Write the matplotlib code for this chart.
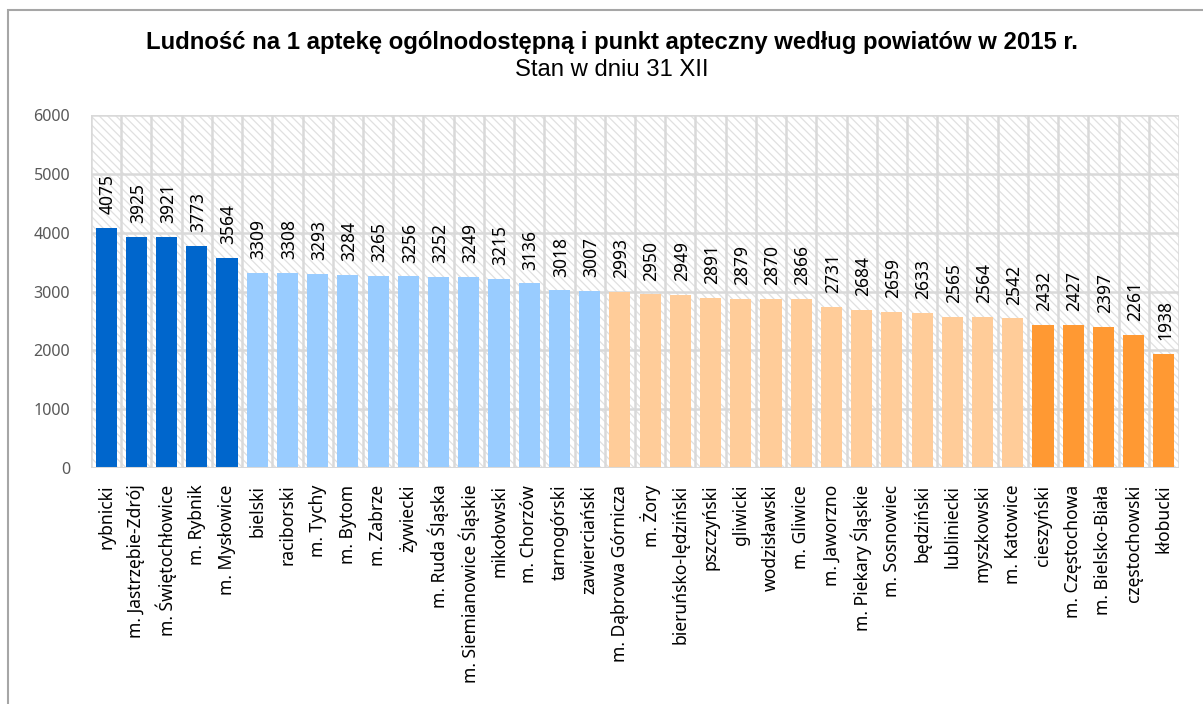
import matplotlib
matplotlib.use("Agg")
import matplotlib.pyplot as plt
from matplotlib.patches import Rectangle
import numpy as np

categories = ["rybnicki", "m. Jastrzębie-Zdrój", "m. Świętochłowice", "m. Rybnik", "m. Mysłowice",
              "bielski", "raciborski", "m. Tychy", "m. Bytom", "m. Zabrze", "żywiecki",
              "m. Ruda Śląska", "m. Siemianowice Śląskie", "mikołowski", "m. Chorzów",
              "tarnogórski", "zawierciański", "m. Dąbrowa Górnicza", "m. Żory",
              "bieruńsko-lędziński", "pszczyński", "gliwicki", "wodzisławski", "m. Gliwice",
              "m. Jaworzno", "m. Piekary Śląskie", "m. Sosnowiec", "będziński", "lubliniecki",
              "myszkowski", "m. Katowice", "cieszyński", "m. Częstochowa", "m. Bielsko-Biała",
              "częstochowski", "kłobucki"]
values = [4075, 3925, 3921, 3773, 3564,
          3309, 3308, 3293, 3284, 3265, 3256, 3252, 3249, 3215, 3136, 3018, 3007,
          2993, 2950, 2949, 2891, 2879, 2870, 2866, 2731, 2684, 2659, 2633, 2565, 2564, 2542,
          2432, 2427, 2397, 2261, 1938]
group_sizes = [5, 12, 14, 5]
group_colors = ["#0066CC", "#99CCFF", "#FFCC99", "#FF9933"]
yticks = [0, 1000, 2000, 3000, 4000, 5000, 6000]
title = "Ludność na 1 aptekę ogólnodostępną i punkt apteczny według powiatów w 2015 r."
subtitle = "Stan w dniu 31 XII"

colors = []
for n, c in zip(group_sizes, group_colors):
    colors += [c] * n

W, H = 1203, 704
plt.rcParams['hatch.linewidth'] = 0.9
fig = plt.figure(figsize=(W / 100, H / 100), dpi=100)
fig.patch.set_facecolor("white")

# outer chart border
fig.patches.append(Rectangle((8 / W, -0.1), 1.2, (H - 10) / H + 0.1, transform=fig.transFigure,
                             fill=False, edgecolor="#A6A6A6", linewidth=1.5, zorder=0))

ax = fig.add_axes([91 / W, (H - 468) / H, (1179 - 91) / W, (468 - 115) / H])
ax.set_facecolor("white")
ax.add_patch(Rectangle((0, 0), 1, 1, transform=ax.transAxes, facecolor="white",
                       edgecolor="#E0E0E0", hatch="\\\\\\\\", linewidth=0, zorder=0))

x = np.arange(len(categories))
bars = ax.bar(x, values, width=0.7, color=colors, zorder=3)

ax.set_xlim(-0.5, len(categories) - 0.5)
ax.set_ylim(0, 6000)
ax.set_yticks(yticks)
ax.set_yticklabels([str(t) for t in yticks], fontsize=11.6, color="#595959", family="Noto Sans")
ax.set_xticks(x)
ax.set_xticklabels(categories, rotation=90, fontsize=12.6, family="Noto Sans", color="black")
ax.tick_params(axis="both", length=0)
ax.tick_params(axis="x", pad=12)
ax.tick_params(axis="y", pad=15)

# gridlines
for yv in yticks[1:]:
    ax.axhline(yv, color="#D9D9D9", linewidth=1.8, zorder=1)
for b in np.arange(-0.5, len(categories) + 0.5, 1):
    ax.axvline(b, color="#D9D9D9", linewidth=1.8, zorder=1)
for s in ax.spines.values():
    s.set_visible(False)
ax.axhline(0, color="#D9D9D9", linewidth=2.2, zorder=4)

for xi, v in zip(x, values):
    ax.annotate(str(v), (xi, v), xytext=(1, 10), textcoords="offset points",
                rotation=90, ha="center", va="bottom", fontsize=12.5, family="Noto Sans",
                color="black", zorder=5)

fig.text(612 / W, 1 - 43 / H, title, ha="center", va="center", fontsize=17.2,
         fontweight="bold", family="Liberation Sans")
fig.text(612 / W, 1 - 70 / H, subtitle, ha="center", va="center", fontsize=17.2,
         family="Liberation Sans")

fig.savefig("out.png", dpi=100)
